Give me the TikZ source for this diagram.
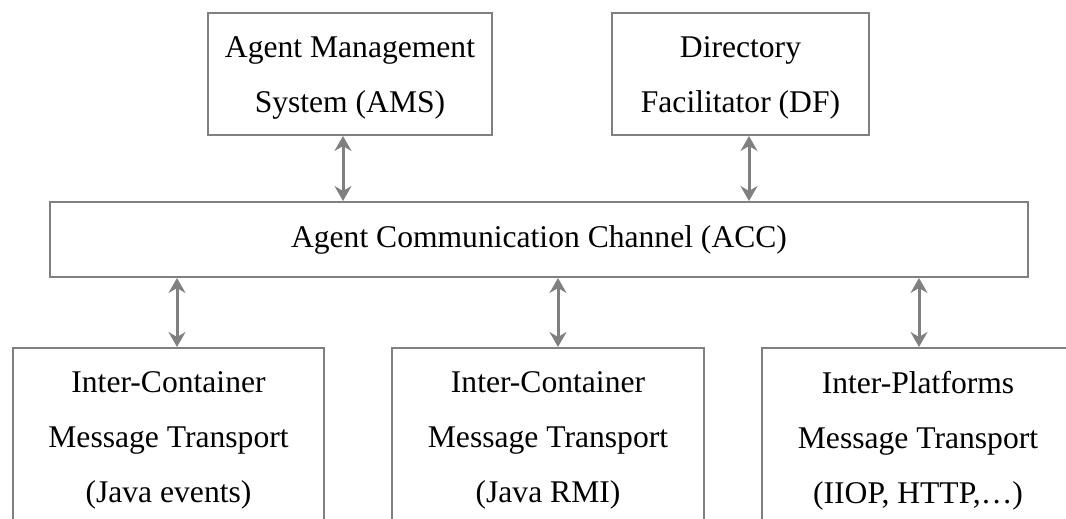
\documentclass[tikz,border=0pt]{standalone}
\usepackage{fontspec}
\setmainfont{Liberation Serif}
\usetikzlibrary{arrows.meta}
\definecolor{boxgray}{RGB}{128,128,128}

\begin{document}
\begin{tikzpicture}[x=1pt,y=-1pt,
  box/.style={draw=boxgray, line width=2pt, align=center, inner sep=0pt,
              font=\fontsize{31.6}{55}\selectfont},
  tipx/.tip={Stealth[length=15pt,width=17pt,inset=5pt]},
  link/.style={draw=boxgray, line width=3pt, tipx-tipx}]
  % canvas
  \fill[white] (0,0) rectangle (1066,519);
  \useasboundingbox (0,0) rectangle (1066,519);
  \clip (0,0) rectangle (1066,519);

  % platform services (the strut lowers the two text lines a little)
  \node[box, minimum width=284, minimum height=122] (ams) at (350,74)
    {\rule{0pt}{28pt}Agent Management\\System (AMS)};
  \node[box, minimum width=257, minimum height=122] (df) at (740.5,74)
    {\rule{0pt}{28pt}Directory\\Facilitator (DF)};

  % communication channel
  \node[box, minimum width=978, minimum height=75] (acc) at (539,239.5)
    {Agent Communication Channel (ACC)};

  % transport layers
  \node[box, minimum width=311, minimum height=185] (ic1) at (168.5,440.5)
    {Inter-Container\\Message Transport\\(Java events)};
  \node[box, minimum width=312, minimum height=185] (ic2) at (548,440.5)
    {Inter-Container\\Message Transport\\(Java RMI)};
  \node[box, minimum width=312, minimum height=185] (ip) at (918,440.5)
    {Inter-Platforms\\Message Transport\\(IIOP, HTTP,\ldots)};

  % connector columns
  \coordinate (xa) at (343,0);
  \coordinate (xd) at (749,0);
  \coordinate (x1) at (177,0);
  \coordinate (x2) at (558,0);
  \coordinate (x3) at (919,0);

  \draw[link] (ams.south -| xa) -- (acc.north -| xa);
  \draw[link] (df.south -| xd) -- (acc.north -| xd);
  \draw[link] (acc.south -| x1) -- (ic1.north -| x1);
  \draw[link] (acc.south -| x2) -- (ic2.north -| x2);
  \draw[link] (acc.south -| x3) -- (ip.north -| x3);
\end{tikzpicture}
\end{document}
